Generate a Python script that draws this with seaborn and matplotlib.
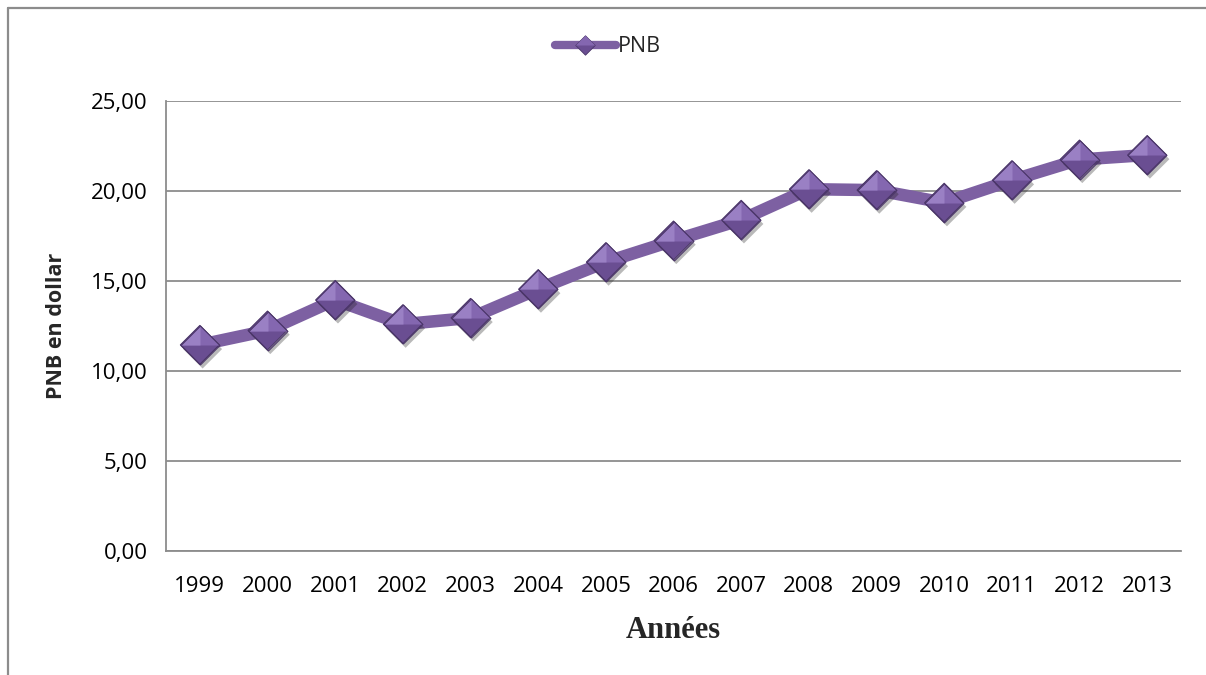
import numpy as np
import pandas as pd
import matplotlib
matplotlib.use("Agg")
import matplotlib.pyplot as plt
import matplotlib.patheffects as pe
from matplotlib.path import Path
from matplotlib.lines import Line2D
from matplotlib.legend_handler import HandlerTuple
import seaborn as sns

# PNB par année (en dollars)
years = [1999, 2000, 2001, 2002, 2003, 2004, 2005, 2006, 2007,
         2008, 2009, 2010, 2011, 2012, 2013]
pnb = [11.45, 12.25, 13.95, 12.60, 12.95, 14.55, 16.05, 17.25, 18.40,
       20.10, 20.05, 19.35, 20.60, 21.75, 22.00]
y_ticks = [0, 5, 10, 15, 20, 25]
y_tick_labels = [f"{v:.2f}".replace(".", ",") for v in y_ticks]

df = pd.DataFrame({"Année": years, "PNB": pnb})

sns.set_theme(style="white")
plt.rcParams["font.family"] = ["Open Sans", "DejaVu Sans"]

LINE = "#7d60a2"
FACE_DARK = "#6a4e92"
FACE_MID = "#8467b0"
FACE_LIGHT = "#9a80c4"
EDGE = "#4a3568"
GRID = "#8c8c8c"

# Faceted diamond marker: full shape, upper half, upper-left quarter
diamond = Path([(-1, 0), (0, 1), (1, 0), (0, -1), (-1, 0)], closed=True)
upper = Path([(-1, 0), (0, 1), (1, 0), (-1, 0)], closed=True)
upper_left = Path([(-1, 0), (0, 1), (0, 0), (-1, 0)], closed=True)

fig = plt.figure(figsize=(12.06, 6.75), dpi=100)
ax = fig.add_axes([166 / 1206, 1 - 551 / 675, 1015 / 1206, 450 / 675])

MS = 28
sns.lineplot(data=df, x="Année", y="PNB", ax=ax, color=LINE, lw=9,
             solid_joinstyle="round", solid_capstyle="round", zorder=3)
sns.lineplot(data=df, x="Année", y="PNB", ax=ax, linestyle="",
             marker=diamond, markersize=MS, markerfacecolor=FACE_DARK,
             markeredgecolor=EDGE, markeredgewidth=0.8, zorder=4,
             path_effects=[pe.SimplePatchShadow(offset=(2, -3), shadow_rgbFace="k",
                                                alpha=0.3), pe.Normal()])
sns.lineplot(data=df, x="Année", y="PNB", ax=ax, linestyle="",
             marker=upper, markersize=MS, markerfacecolor=FACE_MID,
             markeredgecolor="none", zorder=5)
sns.lineplot(data=df, x="Année", y="PNB", ax=ax, linestyle="",
             marker=upper_left, markersize=MS, markerfacecolor=FACE_LIGHT,
             markeredgecolor="none", zorder=6)
sns.lineplot(data=df, x="Année", y="PNB", ax=ax, linestyle="",
             marker=diamond, markersize=MS, markerfacecolor="none",
             markeredgecolor=EDGE, markeredgewidth=0.8, zorder=7)

ax.set_xlim(years[0] - 0.5, years[-1] + 0.5)
ax.set_ylim(0, 25)
ax.set_xticks(years)
ax.set_xticklabels([str(y) for y in years])
ax.set_yticks(y_ticks)
ax.set_yticklabels(y_tick_labels)
ax.tick_params(axis="both", length=0, labelsize=16, colors="black")
ax.tick_params(axis="y", pad=13)
ax.tick_params(axis="x", pad=18)

ax.grid(axis="y", color=GRID, lw=1.3)
ax.grid(axis="x", visible=False)
for side in ["top", "right"]:
    ax.spines[side].set_visible(False)
for side in ["left", "bottom"]:
    ax.spines[side].set_color(GRID)
    ax.spines[side].set_linewidth(1.3)
ax.set_xlabel("")
ax.set_ylabel("")

fig.text(57 / 1206, 1 - 326 / 675, "PNB en dollar", rotation=90,
         ha="center", va="center", fontsize=15.5, fontweight="bold")
fig.text(673 / 1206, 1 - 631 / 675, "Années", ha="center", va="center",
         fontsize=22, fontweight="bold", family="Liberation Serif")

# Legend
h_line = Line2D([], [], color=LINE, lw=6, solid_capstyle="round")
h_dark = Line2D([], [], ls="", marker=diamond, markersize=14,
                markerfacecolor=FACE_DARK, markeredgecolor=EDGE, markeredgewidth=0.6)
h_up = Line2D([], [], ls="", marker=upper, markersize=14,
              markerfacecolor=FACE_MID, markeredgecolor="none")
fig.legend(handles=[(h_line, h_dark, h_up)], labels=["PNB"],
           handler_map={tuple: HandlerTuple(ndivide=1)},
           loc="center", bbox_to_anchor=(608 / 1206, 1 - 47 / 675),
           frameon=False, fontsize=15.5, handlelength=2.8, handletextpad=0.1)

# Chart frame
fig.add_artist(Line2D([7.5 / 1206, 7.5 / 1206], [0, 1 - 7.5 / 675],
                      transform=fig.transFigure, color=GRID, lw=1.6))
fig.add_artist(Line2D([7.5 / 1206, 1], [1 - 7.5 / 675, 1 - 7.5 / 675],
                      transform=fig.transFigure, color=GRID, lw=1.6))

fig.savefig("out.png", dpi=100, facecolor="white")
